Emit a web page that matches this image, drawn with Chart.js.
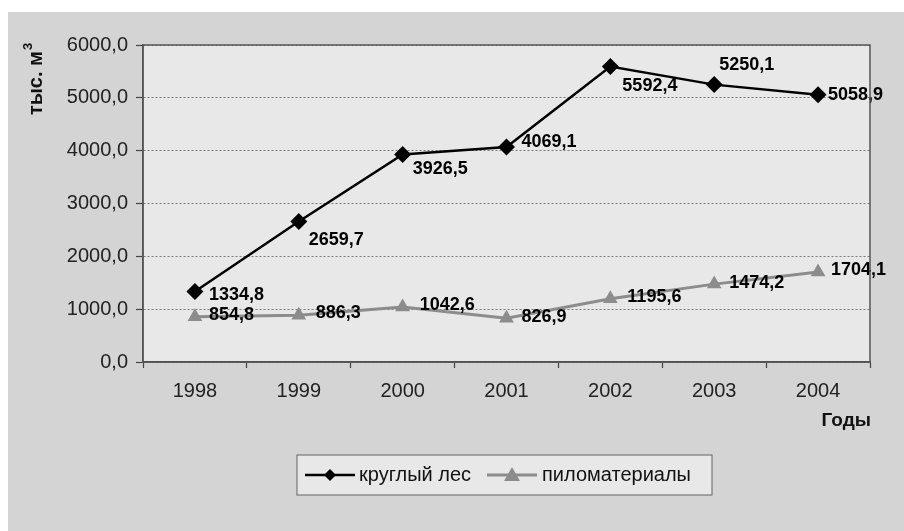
<!DOCTYPE html>
<html>
<head>
<meta charset="utf-8">
<script src="https://cdn.jsdelivr.net/npm/chart.js@4.4.1/dist/chart.umd.min.js"></script>
<style>
    html, body { margin: 0; padding: 0; background: #ffffff; }
    #wrap { position: absolute; left: 8px; top: 12px; width: 896px; height: 519px; background: #d4d4d4; }
    canvas { display: block; }
</style>
</head>
<body>
<div id="wrap"><canvas id="chart" width="896" height="519"></canvas></div>
<script>
// Data
const years = ['1998', '1999', '2000', '2001', '2002', '2003', '2004'];
const roundWood = [1334.8, 2659.7, 3926.5, 4069.1, 5592.4, 5250.1, 5058.9];
const lumber = [854.8, 886.3, 1042.6, 826.9, 1195.6, 1474.2, 1704.1];
const seriesNames = ['круглый лес', 'пиломатериалы'];
const yTitle = 'тыс. м';
const xTitle = 'Годы';

// label offsets from each point (dx, dy)
const roundWoodLabelOffsets = [[14, 4], [10, 19], [10, 14], [15, -5], [12, 19], [5, -20], [10, 0]];
const lumberLabelOffsets = [[14, -2], [17, -2], [17, -2], [15, -1], [17, -2], [15, -1], [13, -2]];

const FONT = '"Liberation Sans", Arial, sans-serif';
const BLACK = '#000000';
const GRAY = '#8c8c8c';

function fmt(v) {
    return v.toFixed(1).replace('.', ',');
}

// Plot background + border, labels, titles and legend
const decorations = {
    id: 'decorations',
    beforeDraw(chart) {
        const a = chart.chartArea;
        const ctx = chart.ctx;
        ctx.save();
        ctx.fillStyle = '#e8e8e8';
        ctx.fillRect(a.left, a.top, a.right - a.left, a.bottom - a.top);
        ctx.restore();
    },
    afterDraw(chart) {
        const a = chart.chartArea;
        const ctx = chart.ctx;
        ctx.save();
        ctx.strokeStyle = '#555555';
        ctx.lineWidth = 1.5;
        ctx.strokeRect(a.left, a.top, a.right - a.left, a.bottom - a.top);

        // y axis title, rotated, with superscript 3
        ctx.fillStyle = '#111111';
        ctx.translate(28, 103);
        ctx.rotate(-Math.PI / 2);
        ctx.font = 'bold 20px ' + FONT;
        ctx.textAlign = 'left';
        ctx.textBaseline = 'middle';
        ctx.fillText(yTitle, 0, 0);
        const w = ctx.measureText(yTitle).width;
        ctx.font = 'bold 13px ' + FONT;
        ctx.fillText('3', w + 1, -8);
        ctx.restore();

        // x axis title
        ctx.save();
        ctx.fillStyle = '#111111';
        ctx.font = 'bold 19px ' + FONT;
        ctx.textAlign = 'right';
        ctx.textBaseline = 'middle';
        ctx.fillText(xTitle, 863, 409);

        // legend
        const lx = 289, ly = 443, lw = 415, lh = 40;
        const cy = ly + lh / 2;
        ctx.fillStyle = '#e8e8e8';
        ctx.fillRect(lx, ly, lw, lh);
        ctx.strokeStyle = '#777777';
        ctx.lineWidth = 1.2;
        ctx.strokeRect(lx, ly, lw, lh);

        ctx.lineWidth = 2.5;
        ctx.strokeStyle = BLACK;
        ctx.beginPath();
        ctx.moveTo(297, cy);
        ctx.lineTo(347, cy);
        ctx.stroke();
        ctx.fillStyle = BLACK;
        ctx.beginPath();
        ctx.moveTo(322, cy - 6);
        ctx.lineTo(328, cy);
        ctx.lineTo(322, cy + 6);
        ctx.lineTo(316, cy);
        ctx.closePath();
        ctx.fill();

        ctx.lineWidth = 3;
        ctx.strokeStyle = GRAY;
        ctx.beginPath();
        ctx.moveTo(479, cy);
        ctx.lineTo(529, cy);
        ctx.stroke();
        ctx.fillStyle = GRAY;
        ctx.beginPath();
        ctx.moveTo(504, cy - 8);
        ctx.lineTo(512, cy + 6);
        ctx.lineTo(496, cy + 6);
        ctx.closePath();
        ctx.fill();

        ctx.fillStyle = '#111111';
        ctx.font = '20px ' + FONT;
        ctx.textAlign = 'left';
        ctx.textBaseline = 'middle';
        ctx.fillText(seriesNames[0], 351, cy);
        ctx.fillText(seriesNames[1], 534, cy);
        ctx.restore();
    },
    afterDatasetsDraw(chart) {
        const ctx = chart.ctx;
        const offsets = [roundWoodLabelOffsets, lumberLabelOffsets];
        ctx.save();
        ctx.font = 'bold 18px ' + FONT;
        ctx.fillStyle = '#000000';
        ctx.textAlign = 'left';
        ctx.textBaseline = 'middle';
        chart.data.datasets.forEach((ds, di) => {
            const meta = chart.getDatasetMeta(di);
            meta.data.forEach((pt, i) => {
                const o = offsets[di][i];
                ctx.fillText(fmt(ds.data[i]), pt.x + o[0], pt.y + o[1]);
            });
        });
        ctx.restore();
    }
};

const ctx = document.getElementById('chart').getContext('2d');
const chart = new Chart(ctx, {
    type: 'line',
    data: {
        labels: years,
        datasets: [
            {
                label: seriesNames[0],
                data: roundWood,
                borderColor: BLACK,
                backgroundColor: BLACK,
                borderWidth: 2.5,
                pointStyle: 'rectRot',
                pointRadius: 8.5,
                pointBorderWidth: 0,
                tension: 0
            },
            {
                label: seriesNames[1],
                data: lumber,
                borderColor: GRAY,
                backgroundColor: GRAY,
                borderWidth: 3,
                pointStyle: 'triangle',
                pointRadius: 8.5,
                pointBorderWidth: 0,
                tension: 0
            }
        ]
    },
    options: {
        responsive: false,
        animation: false,
        layout: { padding: { top: 33, right: 34, left: 0, bottom: 0 } },
        plugins: {
            legend: { display: false },
            tooltip: { enabled: false }
        },
        scales: {
            x: {
                offset: true,
                grid: {
                    offset: true,
                    drawOnChartArea: false,
                    tickLength: 6,
                    tickColor: '#444444',
                    tickWidth: 1.2
                },
                border: { display: true, color: '#444444', width: 1.5 },
                ticks: {
                    font: { family: FONT, size: 20 },
                    color: '#222222',
                    padding: 11,
                    maxRotation: 0
                },
                afterFit(scale) { scale.height = 169; }
            },
            y: {
                min: 0,
                max: 6000,
                grid: {
                    color: '#7a7a7a',
                    lineWidth: 1,
                    tickLength: 7,
                    tickColor: '#444444',
                    tickWidth: 1.2
                },
                border: { display: true, color: '#444444', width: 1.5, dash: [2, 2] },
                ticks: {
                    stepSize: 1000,
                    font: { family: FONT, size: 20 },
                    color: '#222222',
                    padding: 8,
                    callback: v => fmt(v)
                },
                afterFit(scale) { scale.width = 135; }
            }
        }
    },
    plugins: [decorations]
});
</script>
</body>
</html>
